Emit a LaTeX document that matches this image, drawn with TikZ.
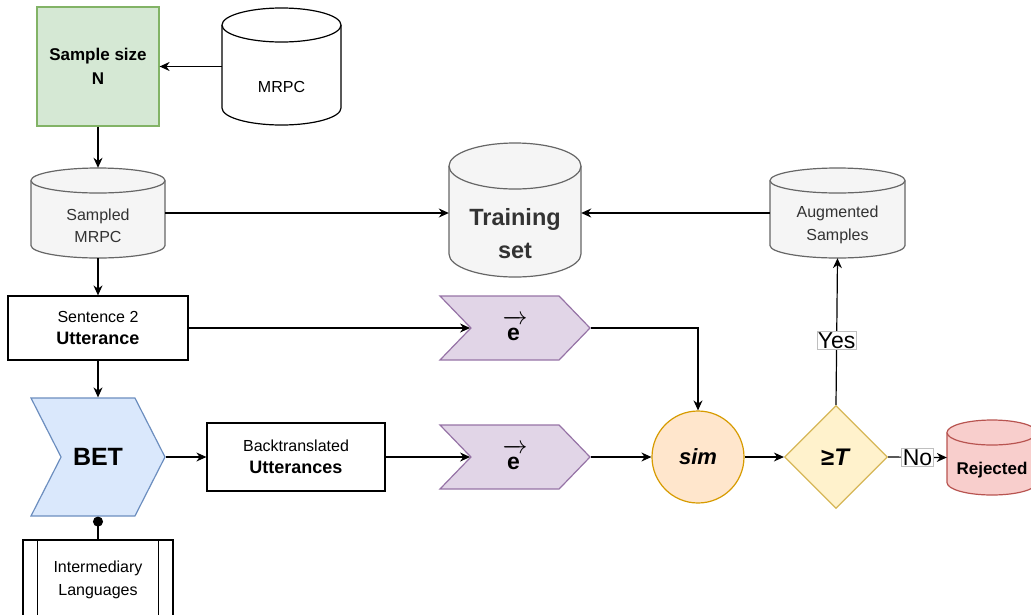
\documentclass[tikz,border=0pt]{standalone}
\usepackage{fontspec}
\setmainfont{Liberation Sans}
\usepackage{tikz}
\usetikzlibrary{arrows, arrows.meta, shapes.geometric, shapes.symbols, positioning}
\tikzset{>={Stealth[length=10pt, width=9pt]}}
\definecolor{grnfill}{HTML}{D5E8D4}\definecolor{grnline}{HTML}{82B366}
\definecolor{gryfill}{HTML}{F5F5F5}\definecolor{gryline}{HTML}{666666}\definecolor{grytext}{HTML}{333333}
\definecolor{purfill}{HTML}{E1D5E7}\definecolor{purline}{HTML}{9673A6}
\definecolor{blufill}{HTML}{DAE8FC}\definecolor{bluline}{HTML}{6C8EBF}
\definecolor{orafill}{HTML}{FFE6CC}\definecolor{oraline}{HTML}{D79B00}
\definecolor{yelfill}{HTML}{FFF2CC}\definecolor{yelline}{HTML}{D6B656}
\definecolor{redfill}{HTML}{F8CECC}\definecolor{redline}{HTML}{B85450}
\newcommand{\fs}[1]{\fontsize{#1}{1.4\dimexpr#1pt\relax}\selectfont}
\newcommand{\vece}{$\overrightarrow{\rule{0pt}{17pt}\kern4pt\textbf{e}\kern7pt}$}
% name, x, y, width, height, ellipse radius, shape style, text style, text
\newcommand{\dbnode}[9]{%
  \pgfmathsetmacro\dbl{#2-#4/2}\pgfmathsetmacro\dbr{#2+#4/2}%
  \pgfmathsetmacro\dbt{#3-#5/2+#6}\pgfmathsetmacro\dbb{#3+#5/2-#6}%
  \filldraw[line width=1.2pt, #7](\dbl,\dbt)--(\dbl,\dbb) arc[start angle=180, end angle=360, x radius=#4/2*1pt, y radius=#6*1pt]
    --(\dbr,\dbt) arc[start angle=0, end angle=180, x radius=#4/2*1pt, y radius=#6*1pt]--cycle;
  \draw[line width=1.2pt, #7](\dbl,\dbt) arc[start angle=180, end angle=360, x radius=#4/2*1pt, y radius=#6*1pt];
  \node[minimum width=#4pt, minimum height=#5pt, inner sep=0pt](#1) at (#2,#3){};
  \node[txt, #8](#1t) at (#2,#3){#9};}
\tikzset{
  txt/.style={font=\fs{16}, align=center, inner sep=0pt},
  box/.style={txt, draw, line width=1.2pt, rectangle},
  gry/.style={fill=gryfill, draw=gryline},
  chevron/.style={txt, signal, signal to=east, signal from=west, draw, line width=1.2pt, signal pointer angle=#1},
  flow/.style={->, line width=1.2pt},
  lbl/.style={font=\fs{23}, fill=white, draw=gray!50, line width=0.6pt, inner sep=1pt}
}
\begin{document}
\begin{tikzpicture}[x=1pt, y=-1pt]
\useasboundingbox (0,0) rectangle (1031,614);

\node[box, fill=grnfill, draw=grnline, minimum width=122pt, minimum height=119pt, font=\fs{17}\bfseries](size) at (98,66.5){Sample size\\N};
\dbnode{mrpc}{281.5}{66.5}{119}{117}{17}{fill=white}{yshift=-20pt}{MRPC}
\dbnode{smrpc}{98}{213}{134}{90}{12.5}{gry}{text=grytext, yshift=-12.5pt}{Sampled\\MRPC}
\dbnode{train}{515}{210}{132}{134}{23}{gry}{text=grytext, font=\fs{23.5}\bfseries, yshift=-24pt}{Training\\set}
\dbnode{aug}{837.5}{213}{135}{90}{12.5}{gry}{text=grytext, yshift=-12pt}{Augmented\\Samples}

\node[box, minimum width=180pt, minimum height=64pt](utt) at (98,328){Sentence 2\\{\fs{18}\bfseries Utterance}};
\node[chevron=92, fill=purfill, draw=purline, minimum width=150pt, minimum height=64pt, font=\fs{23}\bfseries](e1) at (515,328){\vece};

\node[chevron=126, fill=blufill, draw=bluline, minimum width=134pt, minimum height=118pt, font=\fs{25}\bfseries](bet) at (98,457){BET};
\node[box, minimum width=178pt, minimum height=68pt](bt) at (296,457){Backtranslated\\{\fs{18}\bfseries Utterances}};
\node[chevron=92, fill=purfill, draw=purline, minimum width=150pt, minimum height=64pt, font=\fs{23}\bfseries](e2) at (515,457){\vece};
\node[txt, circle, draw=oraline, fill=orafill, line width=1.2pt, minimum size=92pt, font=\fs{22}\bfseries\itshape](sim) at (698,457){sim};
\node[txt, diamond, aspect=1, draw=yelline, fill=yelfill, line width=1.2pt, minimum width=103pt, minimum height=103pt, font=\fs{24}\bfseries](thr) at (836,457){≥\textit{T}};
\dbnode{rej}{992}{457.5}{90}{75}{12.5}{fill=redfill, draw=redline}{font=\fs{17}\bfseries, yshift=-13pt}{Rejected}

\node[box, minimum width=150pt, minimum height=80pt](il) at (98,580){Intermediary\\Languages};
\draw[line width=1.2pt]([xshift=15pt]il.north west)--([xshift=15pt]il.south west) ([xshift=-15pt]il.north east)--([xshift=-15pt]il.south east);

\draw[flow](mrpc.west)--(mrpc.west -| size.east);
\draw[flow](size)--(smrpc);
\draw[flow](smrpc.east)--(smrpc.east -| train.west);
\draw[flow](aug.west)--(aug.west -| train.east);
\draw[flow](smrpc)--(utt);
\draw[flow](utt.east)--(e1.west);
\draw[flow](e1.east)-|(sim.north);
\draw[flow](utt)--(bet);
\draw[flow](bet.east)--(bt.west);
\draw[flow](bt.east)--(e2.west);
\draw[flow](e2.east)--(sim.west);
\draw[flow](sim)--(thr);
\draw[flow](thr.north)--node[lbl, pos=0.44]{Yes}(aug.south);
\draw[flow](thr.east)--node[lbl]{No}(rej.west);
\draw[{Circle[length=10pt]}-, line width=1.2pt](bet.south)--(il.north);

\end{tikzpicture}
\end{document}
